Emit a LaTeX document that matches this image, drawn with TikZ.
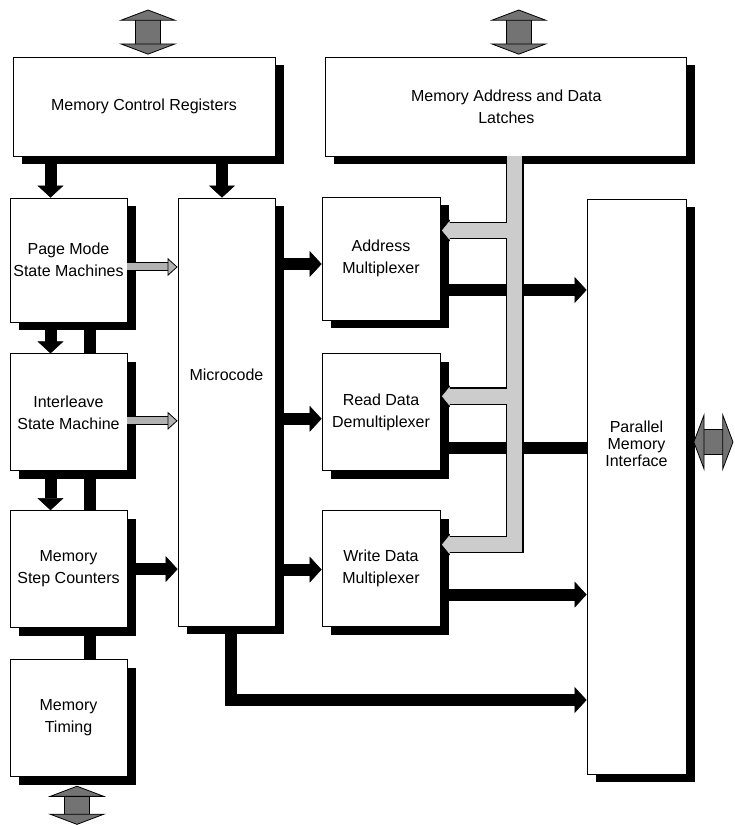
\documentclass[tikz,border=0pt]{standalone}
\usepackage{fontspec}
\setmainfont{Liberation Sans}
\usetikzlibrary{arrows.meta,positioning,calc,shadows}
\definecolor{busgray}{gray}{0.80}
\definecolor{portgray}{gray}{0.45}
\definecolor{ctrlgray}{gray}{0.70}

\begin{document}
\begin{tikzpicture}[
    x=1pt, y=1pt,
    block/.style={rectangle, draw=black, fill=white, line width=0.8pt,
                  minimum width=#1, align=center, inner sep=2pt,
                  font=\fontsize{16}{22}\selectfont,
                  drop shadow={shadow xshift=8.5pt, shadow yshift=-8.5pt,
                               fill=black, opacity=1}},
    block/.default=117pt,
    tag/.style={align=center, font=\fontsize{16}{22}\selectfont},
    flow/.style={draw=black, line width=12pt,
                 -{Triangle[width=26pt, length=12pt, line width=0.5pt]}},
    link/.style={draw=black, line width=12pt},
    ctrl/.style={draw=ctrlgray, line width=7pt,
                 -{Triangle[width=18pt, length=10pt, color=black, fill=ctrlgray, line width=0.8pt]},
                 preaction={draw=black, line width=9pt, arrows=-, shorten >=9pt}},
    port/.style={draw=portgray, line width=24pt,
                 {Triangle[width=58pt, length=11pt, color=black, fill=portgray, line width=0.8pt]}-{Triangle[width=58pt, length=11pt, color=black, fill=portgray, line width=0.8pt]},
                 preaction={draw=black, line width=25.6pt, arrows=-, shorten <=10pt, shorten >=10pt}},
    busline/.style={draw=black, line width=17.6pt,
                    -{Triangle[width=22pt, length=9.5pt, line width=0.5pt]}},
    busfill/.style={draw=busgray, line width=15pt, shorten >=1.6pt,
                    -{Triangle[width=18.5pt, length=7.5pt, line width=0.5pt]}},
]
    \useasboundingbox (0,0) rectangle (734,825);

    % Top registers and latches
    \node[block=262pt, minimum height=99pt] (mcr) at (144,718.5) {Memory Control Registers};
    \node[block=361pt, minimum height=99pt, right=50pt of mcr] (madl)
        {Memory Address and Data\\Latches};

    % Left column
    \node[block, minimum height=124pt] (page) at (68.5,565) {Page Mode\\State Machines};
    \node[block, minimum height=117pt, below=31pt of page] (inter) {Interleave\\State Machine};
    \node[block, minimum height=117pt, below=39pt of inter] (step) {Memory\\Step Counters};
    \node[block, minimum height=117pt, below=31pt of step] (timing) {Memory\\Timing};

    % Microcode
    \node[block=97pt, minimum height=428pt] (micro) at (226.5,413) {};
    \node[tag] (microtxt) at ([yshift=37pt]micro.center) {Microcode};

    % Multiplexers
    \node[block=118pt, minimum height=123pt] (amux) at (381,566.5) {Address\\Multiplexer};
    \node[block=118pt, minimum height=117pt, below=33pt of amux] (rdemux) {Read Data\\Demultiplexer};
    \node[block=118pt, minimum height=116pt, below=39pt of rdemux] (wmux) {Write Data\\Multiplexer};

    % Parallel memory interface
    \node[block=99pt, minimum height=575pt] (pmi) at (636.5,338.5) {};
    \node[tag, font=\fontsize{16}{17}\selectfont] (pmitxt) at ([yshift=43pt]pmi.center)
        {Parallel\\Memory\\Interface};

    % External ports
    \coordinate (mcrport) at ([xshift=4pt, yshift=47pt]mcr.north);
    \coordinate (madlport) at ([xshift=12.5pt, yshift=47pt]madl.north);
    \coordinate (timport) at ([xshift=8.5pt, yshift=-48pt]timing.south);
    \coordinate (pmiport) at ([xshift=47pt, yshift=44.5pt]pmi.east);
    \draw[port] ([xshift=4pt, yshift=2pt]mcr.north) -- (mcrport);
    \draw[port] ([xshift=12.5pt, yshift=2pt]madl.north) -- (madlport);
    \draw[port] ([xshift=8.5pt, yshift=-9pt]timing.south) -- (timport);
    \draw[port] ([xshift=7pt, yshift=44.5pt]pmi.east) -- (pmiport);

    % Control flow into the left column and microcode
    \draw[flow] ([xshift=-18pt]page.north |- mcr.south) -- ([xshift=-18pt]page.north);
    \draw[flow] ([xshift=-4.5pt]micro.north |- mcr.south) -- ([xshift=-4.5pt]micro.north);
    \draw[flow] ([xshift=-18pt]page.south) -- ([xshift=-18pt]inter.north);
    \draw[link] ([xshift=21.5pt]page.south) -- ([xshift=21.5pt]inter.north);
    \draw[flow] ([xshift=-18pt]inter.south) -- ([xshift=-18pt]step.north);
    \draw[link] ([xshift=21.5pt]inter.south) -- ([xshift=21.5pt]step.north);
    \draw[link] ([xshift=21.5pt]step.south) -- ([xshift=21.5pt]timing.north);

    \draw[ctrl] ([yshift=-7pt]page.east) -- ([yshift=-7pt]page.east -| micro.west);
    \draw[ctrl] ([yshift=-8.5pt]inter.east) -- ([yshift=-8.5pt]inter.east -| micro.west);
    \draw[flow] (step.east) -- (step.east -| micro.west);

    % Microcode to multiplexers
    \draw[flow] ([yshift=-5.5pt]amux.west -| micro.east) -- ([yshift=-5.5pt]amux.west);
    \draw[flow] ([yshift=-6.5pt]rdemux.west -| micro.east) -- ([yshift=-6.5pt]rdemux.west);
    \draw[flow] ([yshift=-1pt]wmux.west -| micro.east) -- ([yshift=-1pt]wmux.west);
    \draw[flow] ([xshift=4pt]micro.south) |- ([yshift=-213.5pt]pmi.west);

    % Multiplexers to memory interface
    \draw[flow] ([yshift=-31.5pt]amux.east) -- ([yshift=-31.5pt]amux.east -| pmi.west);
    \draw[link] ([yshift=-35.5pt]rdemux.east) -- ([yshift=-35.5pt]rdemux.east -| pmi.west);
    \draw[flow] ([yshift=-26pt]wmux.east) -- ([yshift=-26pt]wmux.east -| pmi.west);

    % Address and data bus from the latches
    \coordinate (bustop) at ([xshift=8.5pt]madl.south);
    \coordinate (atap) at ([yshift=28pt]amux.east);
    \coordinate (rtap) at ([yshift=16pt]rdemux.east);
    \coordinate (wtap) at ([yshift=24pt]wmux.east);
    \foreach \pass in {busline, busfill} {
        \draw[\pass] (bustop) |- (wtap);
        \draw[\pass] (bustop |- atap) -- (atap);
        \draw[\pass] (bustop |- rtap) -- (rtap);
    }
\end{tikzpicture}
\end{document}
